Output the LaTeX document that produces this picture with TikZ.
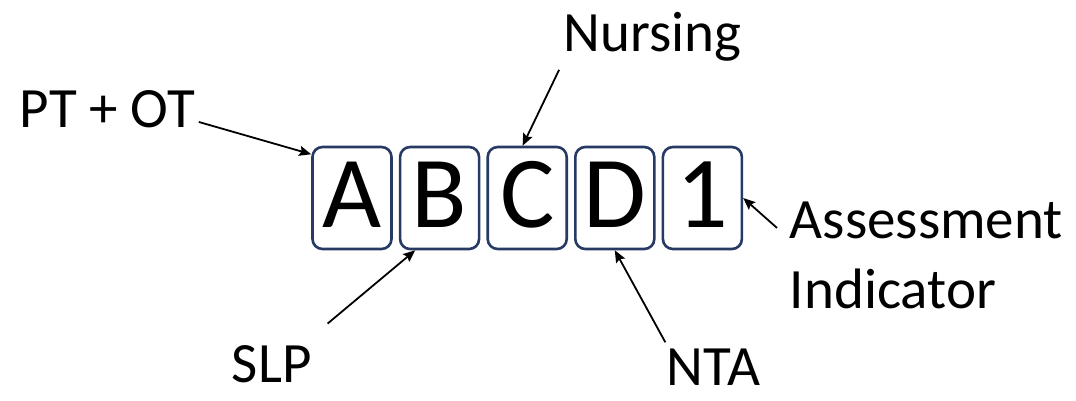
\documentclass[tikz,border=0pt]{standalone}
\usepackage{fontspec}
\setmainfont{Carlito}
\usetikzlibrary{arrows.meta,positioning}
\definecolor{boxnavy}{RGB}{38,58,100}

\begin{document}
\begin{tikzpicture}[->,>={Stealth[length=12pt,width=10pt,inset=2pt]},x=1pt,y=-1pt,
  line width=1.8pt,node distance=6pt,
  code box/.style={rectangle,rounded corners=10pt,draw=boxnavy,line width=2.6pt,
    minimum width=79pt,minimum height=102pt,inner sep=0pt,
    font=\fontsize{102}{102}\selectfont,text height=66pt,text depth=8pt},
  label node/.style={inner sep=0pt,font=\fontsize{57}{70}\selectfont}]

  \useasboundingbox (0,0) rectangle (1076,400);

  \node[code box] (1) at (352,198) {A};
  \node[code box] (2) [right=of 1] {B};
  \node[code box] (3) [right=of 2] {C};
  \node[code box] (4) [right=of 3] {D};
  \node[code box] (5) [right=of 4] {1};

  \node[label node,anchor=base west] (ptot) at (19,127) {PT + OT};
  \node[label node,anchor=base west] (nursing) at (563,51) {Nursing};
  \node[label node,anchor=north west,align=left] (assess) at (789,201) {Assessment\\Indicator};
  \node[label node,anchor=base west] (slp) at (231,382) {SLP};
  \node[label node,anchor=base west] (nta) at (666,385) {NTA};

  \path
    (ptot.-8) edge[shorten <=3pt] (1.133)
    (nursing.south west) edge[shorten <=9pt] (3.95)
    (slp.32) edge[shorten <=32pt] (2.245)
    (nta.157) edge[shorten <=6pt] (4.south)
    (assess.173) edge[shorten <=16pt] (5.east);
%    (assess.west) edge (5.east);

\end{tikzpicture}
\end{document}
